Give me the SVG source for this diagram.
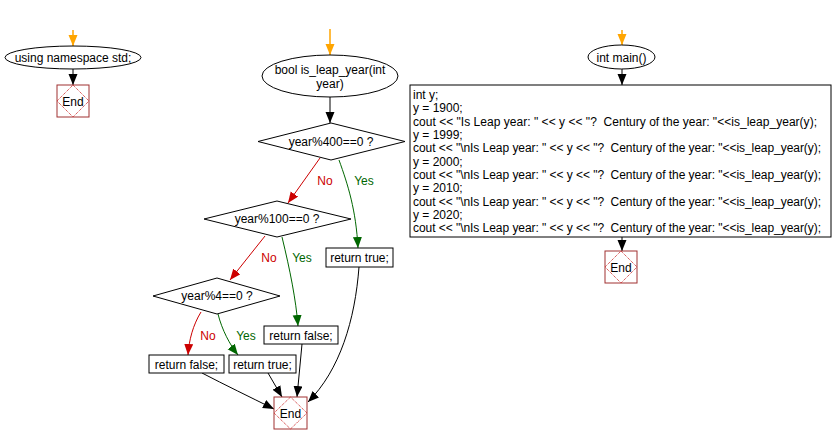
<svg xmlns="http://www.w3.org/2000/svg" width="834" height="444" viewBox="0 0 834 444">
<style>
text{font-family:"Liberation Sans",Arial,sans-serif;font-size:12px;fill:#000;white-space:pre}
.c{text-anchor:middle}
.shape{fill:#fff;stroke:#000;stroke-width:1}
.endbox{fill:#fff;stroke:#a03030;stroke-width:1}
.endd{fill:none;stroke:#cc2222;stroke-width:1;stroke-dasharray:1,1}
.ln{fill:none;stroke:#000;stroke-width:1}
.red{fill:none;stroke:#cc0000;stroke-width:1}
.grn{fill:none;stroke:#006600;stroke-width:1}
.org{fill:none;stroke:#ffa500;stroke-width:1.5}
.no{fill:#cc0000}
.yes{fill:#006600}
</style>
<defs>
<marker id="ab" markerUnits="userSpaceOnUse" markerWidth="12" markerHeight="10" refX="11" refY="4.5" orient="auto"><path d="M0,0 L11,4.5 L0,9 z" fill="#000"/></marker>
<marker id="ar" markerUnits="userSpaceOnUse" markerWidth="12" markerHeight="10" refX="11" refY="4.5" orient="auto"><path d="M0,0 L11,4.5 L0,9 z" fill="#cc0000"/></marker>
<marker id="ag" markerUnits="userSpaceOnUse" markerWidth="12" markerHeight="10" refX="11" refY="4.5" orient="auto"><path d="M0,0 L11,4.5 L0,9 z" fill="#006600"/></marker>
<marker id="ao" markerUnits="userSpaceOnUse" markerWidth="12" markerHeight="10" refX="11" refY="4.5" orient="auto"><path d="M0,0 L11,4.5 L0,9 z" fill="#ffa500"/></marker>
</defs>

<g id="connectors">
<path class="org" d="M73,30 L73,46" marker-end="url(#ao)"/>
<path class="ln" d="M73,69 L73,85" marker-end="url(#ab)"/>
<path class="org" d="M330,29 L330,55" marker-end="url(#ao)"/>
<path class="ln" d="M330,97 L330,123" marker-end="url(#ab)"/>
<path class="red" d="M320,158 L288,203" marker-end="url(#ar)"/>
<path class="grn" d="M339,160 C348,185 356,210 358,248" marker-end="url(#ag)"/>
<path class="red" d="M265,236 L230,280" marker-end="url(#ar)"/>
<path class="grn" d="M282,237 C290,270 296,300 298,326" marker-end="url(#ag)"/>
<path class="red" d="M201,312 C193,325 189,340 188,355" marker-end="url(#ar)"/>
<path class="grn" d="M218,314 C222,330 230,345 238,355" marker-end="url(#ag)"/>
<path class="ln" d="M202,373 C225,385 250,397 274,409" marker-end="url(#ab)"/>
<path class="ln" d="M268,373 L282,397" marker-end="url(#ab)"/>
<path class="ln" d="M302,344 L297,397" marker-end="url(#ab)"/>
<path class="ln" d="M359,267 C355,320 340,370 308,402" marker-end="url(#ab)"/>
<path class="org" d="M622,30 L622,45" marker-end="url(#ao)"/>
<path class="ln" d="M622,69 L622,85" marker-end="url(#ab)"/>
<path class="ln" d="M622,237 L622,251" marker-end="url(#ab)"/>
<text class="c no" x="325" y="185">No</text>
<text class="c yes" x="364" y="185">Yes</text>
<text class="c no" x="269" y="262">No</text>
<text class="c yes" x="302" y="262">Yes</text>
<text class="c no" x="208" y="340">No</text>
<text class="c yes" x="246" y="340">Yes</text>
</g>

<g id="ns">
<ellipse class="shape" cx="73" cy="57.5" rx="68" ry="11.5"/>
<text class="c" x="73" y="62">using namespace std;</text>
</g>
<g id="end1">
<rect class="endbox" x="57" y="85" width="32" height="32"/>
<polygon class="endd" points="73,85 89,101 73,117 57,101"/>
<text class="c" x="73" y="105.5">End</text>
</g>

<g id="func">
<ellipse class="shape" cx="330" cy="76" rx="68" ry="21"/>
<text class="c" x="330" y="74">bool is_leap_year(int</text>
<text class="c" x="330" y="88">year)</text>
</g>
<g id="d400">
<polygon class="shape" points="331,123 405,141.5 331,160 258,141.5"/>
<text class="c" x="331" y="146">year%400==0 ?</text>
</g>
<g id="rt1">
<rect class="shape" x="326" y="248" width="67" height="19"/>
<text class="c" x="359.5" y="262">return true;</text>
</g>
<g id="d100">
<polygon class="shape" points="277,201 351,219 277,237 204,219"/>
<text class="c" x="277" y="223">year%100==0 ?</text>
</g>
<g id="rf1">
<rect class="shape" x="264" y="326" width="74" height="18"/>
<text class="c" x="301" y="340">return false;</text>
</g>
<g id="d4">
<polygon class="shape" points="217,278 280,296 217,314 153,296"/>
<text class="c" x="217" y="300">year%4==0 ?</text>
</g>
<g id="rf2">
<rect class="shape" x="149" y="355" width="75" height="18"/>
<text class="c" x="186.5" y="369">return false;</text>
</g>
<g id="rt2">
<rect class="shape" x="229" y="355" width="67" height="18"/>
<text class="c" x="262.5" y="369">return true;</text>
</g>
<g id="end2">
<rect class="endbox" x="274" y="397" width="33" height="32"/>
<polygon class="endd" points="290.5,397 307,413 290.5,429 274,413"/>
<text class="c" x="290.5" y="417.5">End</text>
</g>

<g id="main">
<ellipse class="shape" cx="621.5" cy="57" rx="33.5" ry="12"/>
<text class="c" x="621.5" y="61.5">int main()</text>
</g>
<g id="body">
<rect class="shape" x="410" y="85" width="421" height="152"/>
<text x="413" y="99">int y;</text>
<text x="413" y="112.3">y = 1900;</text>
<text x="413" y="125.7" textLength="404" lengthAdjust="spacing">cout &lt;&lt; "Is Leap year: " &lt;&lt; y &lt;&lt; "?  Century of the year: "&lt;&lt;is_leap_year(y);</text>
<text x="413" y="139">y = 1999;</text>
<text x="413" y="152.3" textLength="408" lengthAdjust="spacing">cout &lt;&lt; "\nIs Leap year: " &lt;&lt; y &lt;&lt; "?  Century of the year: "&lt;&lt;is_leap_year(y);</text>
<text x="413" y="165.7">y = 2000;</text>
<text x="413" y="179" textLength="408" lengthAdjust="spacing">cout &lt;&lt; "\nIs Leap year: " &lt;&lt; y &lt;&lt; "?  Century of the year: "&lt;&lt;is_leap_year(y);</text>
<text x="413" y="192.3">y = 2010;</text>
<text x="413" y="205.7" textLength="408" lengthAdjust="spacing">cout &lt;&lt; "\nIs Leap year: " &lt;&lt; y &lt;&lt; "?  Century of the year: "&lt;&lt;is_leap_year(y);</text>
<text x="413" y="219">y = 2020;</text>
<text x="413" y="232.3" textLength="408" lengthAdjust="spacing">cout &lt;&lt; "\nIs Leap year: " &lt;&lt; y &lt;&lt; "?  Century of the year: "&lt;&lt;is_leap_year(y);</text>
</g>
<g id="end3">
<rect class="endbox" x="605" y="251" width="32" height="32"/>
<polygon class="endd" points="621,251 637,267 621,283 605,267"/>
<text class="c" x="621" y="271.5">End</text>
</g>
</svg>
